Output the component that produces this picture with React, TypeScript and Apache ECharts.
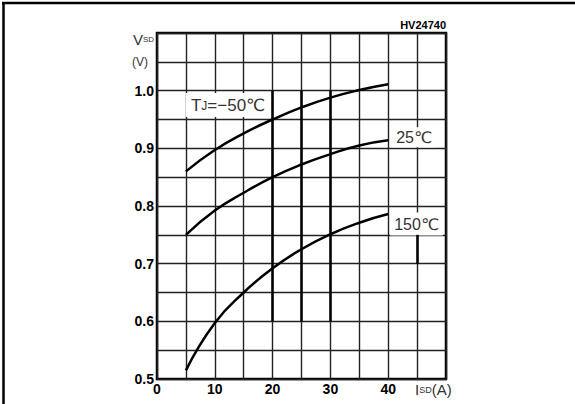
import React, { useEffect, useRef } from "react";
import * as echarts from "echarts";

// Source current I_SD (A)
const current = [5, 10, 15, 20, 25, 30, 35, 40];
// Source-drain voltage V_SD (V) for each junction temperature
const vTjMinus50 = [0.86, 0.897, 0.926, 0.95, 0.971, 0.988, 1.001, 1.011];
const vTj25 = [0.75, 0.792, 0.823, 0.85, 0.872, 0.89, 0.905, 0.914];
const vTj150 = [0.515, 0.597, 0.65, 0.692, 0.725, 0.751, 0.771, 0.786];

const seriesNames = ["TJ=-50℃", "25℃", "150℃"];
const xTickLabels = [0, 10, 20, 30, 40];
const yTickLabels = [0.5, 0.6, 0.7, 0.8, 0.9, 1.0];

// Heavier grid segments seen in the drawing: [x, yFrom, yTo]
const heavyGrid = [
  [20, 0.6, 1.0],
  [25, 0.6, 1.0],
  [30, 0.6, 1.0],
  [45, 0.7, 0.75],
];

const thinFont = "'Liberation Sans', 'DejaVu Sans', sans-serif";
const tickFont = "'Liberation Sans', 'DejaVu Sans', sans-serif";

export default function App() {
  const ref = useRef<HTMLDivElement>(null);

  useEffect(() => {
    if (!ref.current) return;
    const chart = echarts.init(ref.current, undefined, { renderer: "svg" });

    const pts = (ys: number[]) => current.map((x, i) => [x, ys[i]]);
    const curveStyle = { color: "#000", width: 2.5 };
    const thin = { fontFamily: thinFont, color: "#333", fontWeight: "normal" as const };

    chart.setOption({
      animation: false,
      backgroundColor: "#fff",
      title: {
        text: "HV24740",
        right: 129,
        top: 19,
        padding: 0,
        textStyle: { fontSize: 11, fontWeight: "bold", fontFamily: tickFont, color: "#000" },
      },
      graphic: [
        { type: "line", shape: { x1: 2, y1: 3, x2: 575, y2: 3 }, style: { stroke: "#000", lineWidth: 2.5 } },
        { type: "line", shape: { x1: 3.5, y1: 2, x2: 3.5, y2: 404 }, style: { stroke: "#000", lineWidth: 2.5 } },
      ],
      grid: {
        left: 157,
        right: 129,
        top: 33,
        bottom: 25,
        show: true,
        borderColor: "#000",
        borderWidth: 2.5,
        backgroundColor: "transparent",
      },
      xAxis: {
        type: "value",
        min: 0,
        max: 50,
        interval: 5,
        axisLine: { show: false },
        axisTick: { show: false },
        splitLine: { show: true, lineStyle: { color: "#222", width: 1.4 } },
        axisLabel: {
          margin: 3,
          fontSize: 14,
          fontWeight: "bold",
          fontFamily: tickFont,
          color: "#000",
          formatter: (v: number) => (xTickLabels.includes(v) ? String(v) : ""),
          showMaxLabel: false,
        },
        name: "{i|I}{s|SD}{i|(A)}",
        nameLocation: "end",
        nameGap: -31,
        nameTextStyle: {
          verticalAlign: "top",
          padding: [3, 0, 0, 0],
          rich: {
            i: { ...thin, fontSize: 15 },
            s: { ...thin, fontSize: 9 },
          },
        },
      },
      yAxis: {
        type: "value",
        min: 0.5,
        max: 1.1,
        interval: 0.05,
        axisLine: { show: false },
        axisTick: { show: false },
        splitLine: { show: true, lineStyle: { color: "#222", width: 1.4 } },
        axisLabel: {
          margin: 3,
          fontSize: 14,
          fontWeight: "bold",
          fontFamily: tickFont,
          color: "#000",
          formatter: (v: number) => {
            const k = Math.round(v * 100);
            if (k === 110) return "{v|V}{s|SD}";
            if (k === 105) return "{p|(V)}";
            const match = yTickLabels.find((t) => Math.round(t * 100) === k);
            return match !== undefined ? match.toFixed(1) : "";
          },
          rich: {
            v: { ...thin, fontSize: 15, padding: [12, 0, 0, 0] },
            s: { ...thin, fontSize: 8, padding: [12, 0, 0, 0] },
            p: { ...thin, fontSize: 12, padding: [0, 6, 0, 0] },
          },
        },
      },
      series: [
        {
          name: seriesNames[0],
          type: "line",
          data: pts(vTjMinus50),
          smooth: 0.5,
          showSymbol: false,
          lineStyle: curveStyle,
          z: 3,
          markPoint: {
            symbol: "rect",
            symbolSize: 0,
            silent: true,
            data: [{ coord: [12.3, 0.975] }],
            label: {
              show: true,
              position: "inside",
              formatter: "T{s|J}=−50℃",
              ...thin,
              fontSize: 17,
              backgroundColor: "#fff",
              padding: [4, 5, 3, 5],
              rich: { s: { ...thin, fontSize: 12 } },
            },
          },
          markLine: {
            silent: true,
            symbol: ["none", "none"],
            label: { show: false },
            lineStyle: { color: "#000", width: 2.5, type: "solid" },
            data: heavyGrid.map(([x, y0, y1]) => [{ coord: [x, y0] }, { coord: [x, y1] }]),
          },
        },
        {
          name: seriesNames[1],
          type: "line",
          data: pts(vTj25),
          smooth: 0.5,
          showSymbol: false,
          lineStyle: curveStyle,
          z: 3,
          endLabel: {
            show: true,
            formatter: seriesNames[1],
            ...thin,
            fontSize: 16,
            backgroundColor: "#fff",
            padding: [2, 4, 2, 4],
            distance: 2,
            offset: [2, -3],
          },
        },
        {
          name: seriesNames[2],
          type: "line",
          data: pts(vTj150),
          smooth: 0.5,
          showSymbol: false,
          lineStyle: curveStyle,
          z: 3,
          endLabel: {
            show: true,
            formatter: seriesNames[2],
            ...thin,
            fontSize: 16,
            backgroundColor: "#fff",
            padding: [4, 4, 3, 4],
            distance: 2,
            offset: [0, 10],
          },
        },
      ],
    });

    return () => chart.dispose();
  }, []);

  return (
    <div
      ref={ref}
      style={{ position: "fixed", left: 0, top: 0, width: 575, height: 404, background: "#fff" }}
    />
  );
}
